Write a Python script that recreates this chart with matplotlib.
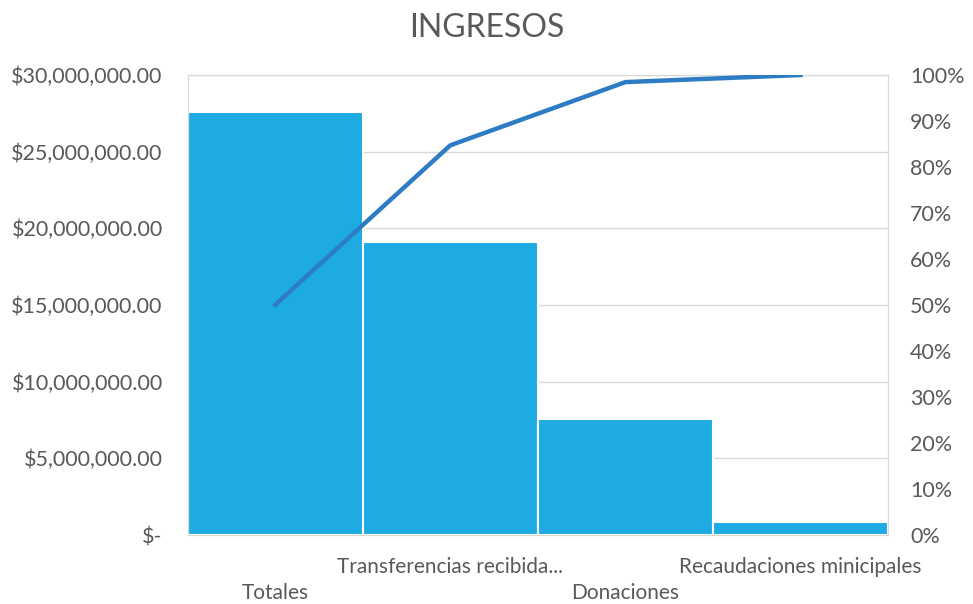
import matplotlib
matplotlib.use("Agg")
import matplotlib.pyplot as plt
from matplotlib.ticker import FuncFormatter, PercentFormatter
import numpy as np

plt.rcParams['font.family'] = ['Lato', 'DejaVu Sans']

categorias = ['Totales', 'Transferencias recibida...', 'Donaciones', 'Recaudaciones minicipales']
ingresos = [27600000, 19100000, 7570000, 850000]

acumulado = np.cumsum(ingresos) / np.sum(ingresos) * 100

gris = '#595959'
fig = plt.figure(figsize=(9.73, 6.04), dpi=100)
ax1 = fig.add_axes([0.193, 0.1142, 0.7196, 0.7616])
x = np.arange(len(categorias))
ax1.bar(x, ingresos, width=1.0, color='#1EAAE2', edgecolor='white', linewidth=1.5, zorder=2)
ax1.set_xlim(-0.5, len(categorias) - 0.5)
ax1.set_ylim(0, 30000000)
ax1.set_yticks(np.arange(0, 30000001, 5000000))

def pesos(v, pos):
    if v == 0:
        return '$-'
    return '${:,.2f}'.format(v)

ax1.yaxis.set_major_formatter(FuncFormatter(pesos))
ax1.grid(axis='y', color='#d9d9d9', linewidth=1, zorder=0)
ax1.tick_params(axis='y', length=0, labelsize=15.5, labelcolor=gris, pad=18)
ax1.set_xticks(x)
ax1.set_xticklabels([])
ax1.tick_params(axis='x', length=0)
for i, lab in enumerate(categorias):
    dy = -0.127 if i % 2 == 0 else -0.07
    ax1.text(i, dy, lab, transform=ax1.get_xaxis_transform(), ha='center', va='center',
             fontsize=15, color=gris)
for s in ax1.spines.values():
    s.set_color('#d9d9d9')

ax2 = ax1.twinx()
ax2.plot(x, acumulado, color='#2E7CC4', linewidth=3.2, zorder=3)
ax2.set_ylim(0, 100)
ax2.set_yticks(np.arange(0, 101, 10))
ax2.yaxis.set_major_formatter(PercentFormatter(decimals=0))
ax2.tick_params(axis='y', length=0, labelsize=15.5, labelcolor=gris, pad=16)
for s in ax2.spines.values():
    s.set_color('#d9d9d9')

fig.text(0.5, 0.953, 'INGRESOS', ha='center', va='center', fontsize=23, color=gris)

fig.savefig('out.png', dpi=100)
